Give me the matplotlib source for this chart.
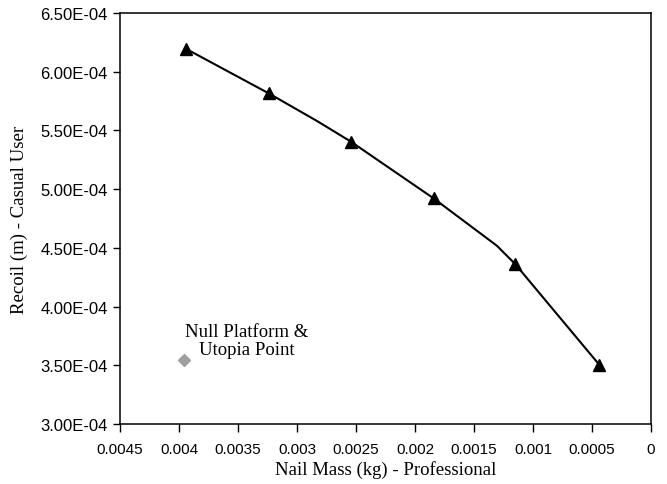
import matplotlib
matplotlib.use("Agg")
import matplotlib.pyplot as plt

# Pareto front (line with triangle markers)
line_x = [0.003937, 0.003240, 0.002835, 0.002544, 0.001843, 0.001306, 0.001151, 0.000438]
line_y = [6.193e-4, 5.816e-4, 5.583e-4, 5.405e-4, 4.922e-4, 4.518e-4, 4.362e-4, 3.504e-4]
marker_x = [0.003937, 0.003240, 0.002544, 0.001843, 0.001151, 0.000438]
marker_y = [6.193e-4, 5.816e-4, 5.405e-4, 4.922e-4, 4.362e-4, 3.504e-4]

# Null platform & utopia point
utopia_x = [0.003960]
utopia_y = [3.544e-4]
annot_text = "Null Platform &\nUtopia Point"

x_ticks = [0.0045, 0.004, 0.0035, 0.003, 0.0025, 0.002, 0.0015, 0.001, 0.0005, 0.0]
x_ticklabels = ["0.0045", "0.004", "0.0035", "0.003", "0.0025", "0.002", "0.0015", "0.001", "0.0005", "0"]
y_ticks = [3.0e-4, 3.5e-4, 4.0e-4, 4.5e-4, 5.0e-4, 5.5e-4, 6.0e-4, 6.5e-4]
y_ticklabels = ["3.00E-04", "3.50E-04", "4.00E-04", "4.50E-04", "5.00E-04", "5.50E-04", "6.00E-04", "6.50E-04"]

x_label = "Nail Mass (kg) - Professional"
y_label = "Recoil (m) - Casual User"

fig = plt.figure(figsize=(6.67, 4.85), dpi=100)
ax = fig.add_axes([120/667, 1-425/485, (651-120)/667, (425-14)/485])

ax.plot(line_x, line_y, color="black", lw=1.5, zorder=2)
ax.plot(marker_x, marker_y, ls="none", marker="^", color="black", markersize=9, zorder=3)
ax.plot(utopia_x, utopia_y, ls="none", marker="D", color="#a0a0a0", markersize=6, zorder=3)
ax.text(0.003429, 3.712e-4, annot_text, ha="center", va="center",
        family="Liberation Serif", fontsize=13.5, linespacing=1.1)

ax.set_xlim(0.0045, 0.0)
ax.set_ylim(3.0e-4, 6.5e-4)
ax.set_xticks(x_ticks)
ax.set_xticklabels(x_ticklabels, family="Liberation Sans", fontsize=11)
ax.set_yticks(y_ticks)
ax.set_yticklabels(y_ticklabels, family="Liberation Sans", fontsize=12)
ax.tick_params(axis="x", direction="out", length=6, width=1, pad=7)
ax.tick_params(axis="y", direction="out", length=5, width=1, pad=4)

for s in ax.spines.values():
    s.set_linewidth(1.1)
    s.set_color("black")

ax.set_xlabel(x_label, family="Liberation Serif", fontsize=13.5, labelpad=3)
ax.set_ylabel(y_label, family="Liberation Serif", fontsize=13.5, labelpad=9)

fig.savefig("out.png", dpi=100)
